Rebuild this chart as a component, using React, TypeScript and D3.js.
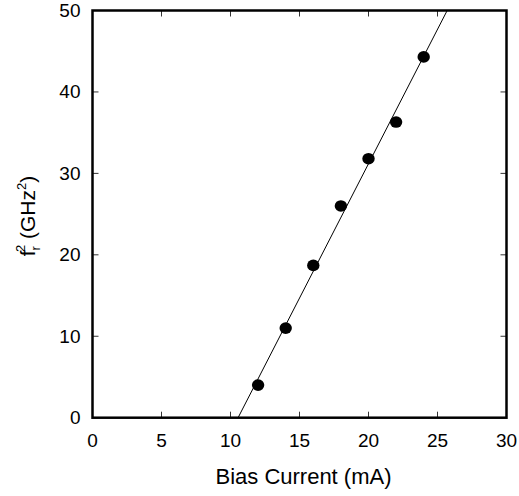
import React from "react";
import * as d3 from "d3";

const biasCurrent = [12, 14, 16, 18, 20, 22, 24];
const frSquared = [4.0, 11.0, 18.7, 26.0, 31.8, 36.3, 44.3];
const xTicks = [0, 5, 10, 15, 20, 25, 30];
const yTicks = [0, 10, 20, 30, 40, 50];
const fitSlope = 3.3;
const fitXIntercept = 10.55;

const W = 519;
const H = 496;
const m = { left: 92.5, right: 506.5, top: 10.5, bottom: 417.7 };
const font = "Liberation Sans, Arial, Helvetica, sans-serif";

export default function App() {
  const x = d3.scaleLinear().domain([0, 30]).range([m.left, m.right]);
  const y = d3.scaleLinear().domain([0, 50]).range([m.bottom, m.top]);
  const fitX0 = fitXIntercept;
  const fitX1 = fitXIntercept + 50 / fitSlope;
  const line = d3
    .line<[number, number]>()
    .x((d) => x(d[0]))
    .y((d) => y(d[1]));
  const fitPts: [number, number][] = [
    [fitX0, 0],
    [fitX1, fitSlope * (fitX1 - fitXIntercept)],
  ];
  const tickLen = 6;
  return (
    <svg
      width={W}
      height={H}
      style={{ position: "absolute", left: 0, top: 0 }}
      fontFamily={font}
    >
      <rect width={W} height={H} fill="white" />
      {xTicks.map((t) => (
        <g key={"xt" + t}>
          <line x1={x(t)} x2={x(t)} y1={m.bottom} y2={m.bottom - tickLen} stroke="#333" strokeWidth={1} />
          <line x1={x(t)} x2={x(t)} y1={m.top} y2={m.top + tickLen} stroke="#333" strokeWidth={1} />
          <text x={x(t)} y={447} textAnchor="middle" fontSize={19} fill="#000">
            {t}
          </text>
        </g>
      ))}
      {yTicks.map((t) => (
        <g key={"yt" + t}>
          <line x1={m.left} x2={m.left + tickLen} y1={y(t)} y2={y(t)} stroke="#333" strokeWidth={1} />
          <line x1={m.right} x2={m.right - tickLen} y1={y(t)} y2={y(t)} stroke="#333" strokeWidth={1} />
          <text x={80.5} y={y(t) + 6.5} textAnchor="end" fontSize={19} fill="#000">
            {t}
          </text>
        </g>
      ))}
      <path d={line(fitPts) || ""} stroke="#000" strokeWidth={1} fill="none" />
      {biasCurrent.map((b, i) => (
        <ellipse key={i} cx={x(b)} cy={y(frSquared[i])} rx={6.2} ry={5.8} fill="#000" />
      ))}
      <rect
        x={m.left}
        y={m.top}
        width={m.right - m.left}
        height={m.bottom - m.top}
        fill="none"
        stroke="#000"
        strokeWidth={2.5}
      />
      <text x={(m.left + m.right) / 2 + 4} y={484} textAnchor="middle" fontSize={22} fill="#000">
        Bias Current (mA)
      </text>
      <text
        transform={`translate(35, 216) rotate(-90)`}
        textAnchor="middle"
        fontSize={21}
        fill="#000"
      >
        <tspan>f</tspan>
        <tspan fontSize={13} dy={5}>r</tspan>
        <tspan fontSize={13} dx={-6} dy={-15}>2</tspan>
        <tspan dy={10}> (GHz</tspan>
        <tspan fontSize={13} dy={-9}>2</tspan>
        <tspan dy={9}>)</tspan>
      </text>
    </svg>
  );
}
